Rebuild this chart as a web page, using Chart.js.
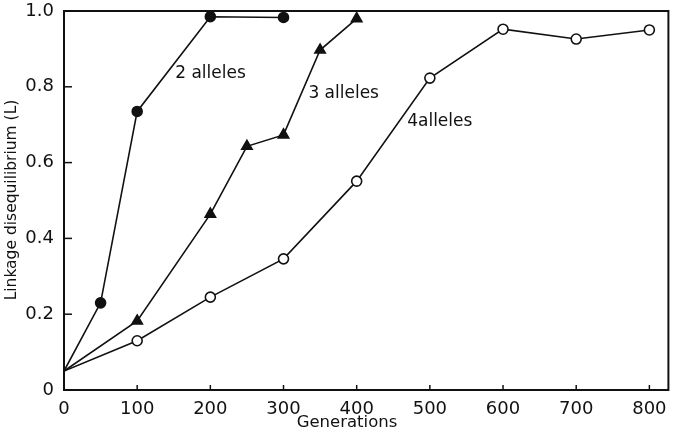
<!DOCTYPE html>
<html>
<head>
<meta charset="utf-8">
<script src="https://cdn.jsdelivr.net/npm/chart.js@4"></script>
<style>
  html,body{margin:0;padding:0;background:#fff;}
  #wrap{width:676px;height:438px;position:relative;}
</style>
</head>
<body>
<div id="wrap"><canvas id="c"></canvas></div>
<script>
/* Linkage disequilibrium vs generations, 2/3/4 alleles */
const GEN2 = [0, 50, 100, 200, 300];
const L2   = [0.05, 0.23, 0.735, 0.985, 0.983];
const GEN3 = [0, 100, 200, 250, 300, 350, 400];
const L3   = [0.05, 0.182, 0.464, 0.643, 0.673, 0.897, 0.98];
const GEN4 = [0, 100, 200, 300, 400, 500, 600, 700, 800];
const L4   = [0.05, 0.13, 0.245, 0.346, 0.551, 0.823, 0.952, 0.926, 0.95];
const X_TICKS = [0, 100, 200, 300, 400, 500, 600, 700, 800];
const Y_TICKS = [0, 0.2, 0.4, 0.6, 0.8, 1.0];
const LABELS = [
  {text:'2 alleles', x:152, y:0.836},
  {text:'3 alleles', x:334, y:0.781},
  {text:'4alleles',  x:469, y:0.707}
];
const X_TITLE = 'Generations';
const Y_TITLE = 'Linkage disequilibrium (L)';

const FONT = "'DejaVu Sans', sans-serif";
const INK = '#111';
const pts = (xs, ys) => xs.map((x,i)=>({x, y:ys[i]}));
const radii = (n, r) => Array.from({length:n}, (_,i)=> i===0 ? 0 : r);

// frame, inward ticks, axis titles, series labels
const decor = {
  id:'decor',
  afterDatasetsDraw(chart){
    const {ctx, chartArea:a, scales:{x, y}} = chart;
    ctx.save();
    ctx.strokeStyle = INK; ctx.lineWidth = 2;
    ctx.strokeRect(a.left, a.top, a.right - a.left, a.bottom - a.top);
    ctx.lineWidth = 1.5;
    X_TICKS.forEach(v=>{
      const px = x.getPixelForValue(v);
      ctx.beginPath(); ctx.moveTo(px, a.bottom); ctx.lineTo(px, a.bottom - 5); ctx.stroke();
    });
    Y_TICKS.forEach(v=>{
      const py = y.getPixelForValue(v);
      ctx.beginPath(); ctx.moveTo(a.left, py); ctx.lineTo(a.left + 8, py); ctx.stroke();
    });
    ctx.fillStyle = INK;
    ctx.textBaseline = 'middle';
    ctx.font = "17px " + FONT; ctx.textAlign = 'left';
    LABELS.forEach(l=> ctx.fillText(l.text, x.getPixelForValue(l.x), y.getPixelForValue(l.y)));
    ctx.font = "16.5px " + FONT; ctx.textAlign = 'center';
    ctx.fillText(X_TITLE, 347, 423);
    ctx.translate(12, 200); ctx.rotate(-Math.PI/2);
    ctx.font = "15.5px " + FONT;
    ctx.fillText(Y_TITLE, 0, 0);
    ctx.restore();
  }
};

new Chart(document.getElementById('c'), {
  type:'line',
  data:{datasets:[
    {label:'2 alleles', data:pts(GEN2, L2), borderColor:INK, borderWidth:1.6,
     pointRadius:radii(GEN2.length, 5), pointBackgroundColor:INK, pointBorderColor:INK, pointStyle:'circle'},
    {label:'3 alleles', data:pts(GEN3, L3), borderColor:INK, borderWidth:1.6,
     pointRadius:radii(GEN3.length, 6), pointBackgroundColor:INK, pointBorderColor:INK, pointStyle:'triangle'},
    {label:'4 alleles', data:pts(GEN4, L4), borderColor:INK, borderWidth:1.6,
     pointRadius:radii(GEN4.length, 5), pointBackgroundColor:'#fff', pointBorderColor:INK, pointBorderWidth:1.6, pointStyle:'circle'}
  ]},
  options:{
    responsive:true, maintainAspectRatio:false, animation:false,
    layout:{padding:{left:0, right:3, top:11, bottom:0}},
    plugins:{legend:{display:false}, tooltip:{enabled:false}},
    scales:{
      x:{type:'linear', min:0, max:826,
        afterBuildTicks:s=>{ s.ticks = X_TICKS.map(v=>({value:v})); },
        afterFit:s=>{ s.height = 48; },
        grid:{display:false}, border:{display:false},
        ticks:{color:INK, font:{family:FONT, size:18, lineHeight:1}, padding:2, maxRotation:0}
      },
      y:{min:0, max:1,
        afterBuildTicks:s=>{ s.ticks = Y_TICKS.map(v=>({value:v})); },
        afterFit:s=>{ s.width = 64; },
        grid:{display:false}, border:{display:false},
        ticks:{color:INK, font:{family:FONT, size:18, lineHeight:1}, padding:2,
          callback:v=> v===0 ? '0' : v.toFixed(1)}
      }
    }
  },
  plugins:[decor]
});
</script>
</body>
</html>
